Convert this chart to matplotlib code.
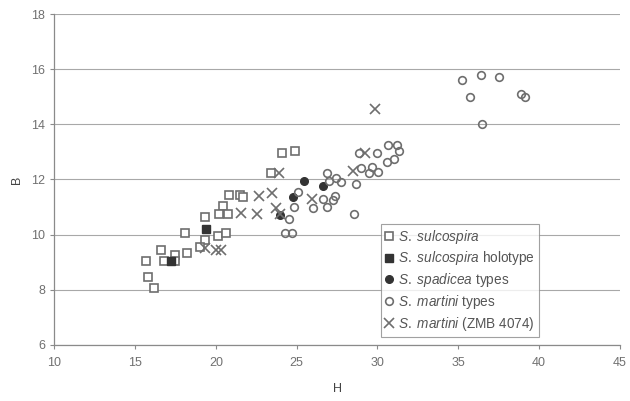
import matplotlib
matplotlib.use("Agg")
import matplotlib.pyplot as plt

plt.rcParams["font.family"] = ["Liberation Sans", "DejaVu Sans"]
plt.rcParams["mathtext.fontset"] = "custom"
plt.rcParams["mathtext.rm"] = "Liberation Sans"
plt.rcParams["mathtext.it"] = "Liberation Sans:italic"

# S. sulcospira (open squares)
sulc_h = [15.7, 15.8, 16.2, 16.6, 16.8, 17.5, 17.5, 18.2, 18.1, 19.35, 19.0, 20.15,
          20.65, 20.8, 21.5, 21.7, 20.45, 20.2, 20.75, 19.35, 24.1, 24.9, 23.4]
sulc_b = [9.05, 8.45, 8.05, 9.45, 9.05, 9.25, 9.05, 9.35, 10.05, 9.8, 9.55, 9.95,
          10.05, 11.45, 11.45, 11.35, 11.05, 10.75, 10.75, 10.65, 12.95, 13.03, 12.25]

# S. sulcospira holotype (filled squares)
holo_h = [17.2, 19.4]
holo_b = [9.05, 10.2]

# S. spadicea types (filled circles)
spad_h = [25.45, 26.6, 24.8, 24.0]
spad_b = [11.95, 11.75, 11.35, 10.7]

# S. martini types (open circles)
mart_h = [25.1, 24.85, 24.55, 24.3, 24.7, 26.9, 27.45, 27.75, 27.0, 26.6, 26.85,
          26.0, 27.35, 27.25, 28.7, 28.55, 29.0, 29.65, 29.5, 30.05, 29.95, 28.85,
          30.65, 31.2, 31.35, 31.0, 30.6,
          35.2, 36.4, 37.5, 35.7, 38.85, 39.1, 36.45]
mart_b = [11.55, 11.0, 10.55, 10.05, 10.05, 12.25, 12.05, 11.9, 11.95, 11.3, 11.0,
          10.95, 11.4, 11.25, 11.85, 10.75, 12.4, 12.45, 12.25, 12.27, 12.95, 12.95,
          13.25, 13.25, 13.03, 12.73, 12.63,
          15.6, 15.8, 15.7, 15.0, 15.1, 15.0, 14.0]

# S. martini (ZMB 4074) (crosses)
zmb_h = [19.35, 20.0, 20.35, 21.55, 22.55, 22.7, 23.45, 23.75, 24.0, 23.9, 25.95,
         28.5, 29.25, 29.85]
zmb_b = [9.5, 9.45, 9.45, 10.8, 10.75, 11.4, 11.5, 10.95, 10.75, 12.25, 11.3,
         12.3, 12.95, 14.55]

GREY = "#6e6e6e"
DARK = "#333333"

fig = plt.figure(figsize=(6.3, 4.01), dpi=100)
ax = fig.add_axes([0.086, 0.14, 0.898, 0.825])

ax.plot(sulc_h, sulc_b, "s", ms=5.3, mfc="white", mec=GREY, mew=1.2,
        label=r"$\mathit{S.\ sulcospira}$")
ax.plot(holo_h, holo_b, "s", ms=5.3, mfc=DARK, mec=DARK, mew=1.0,
        label=r"$\mathit{S.\ sulcospira}$ holotype")
ax.plot(spad_h, spad_b, "o", ms=5.5, mfc=DARK, mec=DARK, mew=1.0,
        label=r"$\mathit{S.\ spadicea}$ types")
ax.plot(mart_h, mart_b, "o", ms=5.5, mfc="none", mec=GREY, mew=1.2,
        label=r"$\mathit{S.\ martini}$ types")
ax.plot(zmb_h, zmb_b, "x", ms=6.5, mec=GREY, mew=1.2, linestyle="None",
        label=r"$\mathit{S.\ martini}$ (ZMB 4074)")

ax.set_xlim(10, 45)
ax.set_ylim(6, 18)
ax.set_xticks(range(10, 46, 5))
ax.set_yticks(range(6, 19, 2))
ax.yaxis.grid(True, color="#a8a8a8", linewidth=0.8)
ax.set_axisbelow(True)

for side in ("top", "right"):
    ax.spines[side].set_visible(False)
for side in ("left", "bottom"):
    ax.spines[side].set_color("#8a8a8a")
    ax.spines[side].set_linewidth(0.9)

ax.tick_params(colors="#8a8a8a", labelcolor="#707070", labelsize=9,
               length=3, width=0.8, direction="out")
ax.tick_params(axis="x", pad=6)

ax.set_xlabel("H", fontsize=9, color="#444444", labelpad=10)
ax.set_ylabel("B", fontsize=9, color="#444444", labelpad=6)

leg = ax.legend(loc="lower left", bbox_to_anchor=(0.578, 0.024), fontsize=9.8,
                frameon=True, fancybox=False, edgecolor="#8a8a8a",
                handlelength=0.6, handletextpad=0.3, borderpad=0.3,
                labelspacing=0.28, borderaxespad=0)
leg.get_frame().set_linewidth(0.8)
for t in leg.get_texts():
    t.set_color("#555555")

fig.savefig("out.png", dpi=100)
